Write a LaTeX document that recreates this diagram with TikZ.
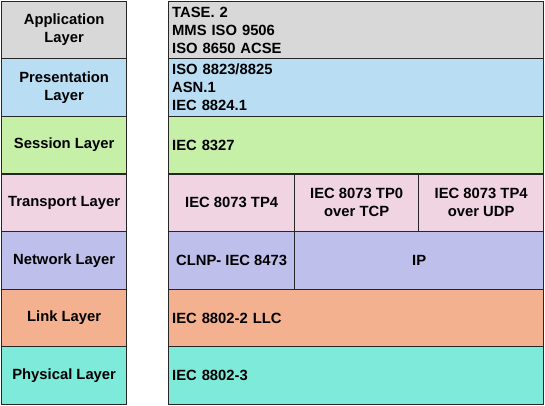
\documentclass[tikz,border=0pt]{standalone}
\usepackage{fontspec}
\setmainfont{Liberation Sans}
\definecolor{cApp}{HTML}{D8D8D8}
\definecolor{cPre}{HTML}{B9DEF4}
\definecolor{cSes}{HTML}{C6EFA8}
\definecolor{cTra}{HTML}{F0D4E2}
\definecolor{cNet}{HTML}{BFBFEB}
\definecolor{cLnk}{HTML}{F4B190}
\definecolor{cPhy}{HTML}{7EEAD9}
\begin{document}
\begin{tikzpicture}[x=1pt,y=-1pt,
  cell/.style={draw=black!85, line width=1.3pt, inner sep=0pt, anchor=north west,
    font=\bfseries\fontsize{14.8}{18}\selectfont, align=center, minimum height=57.6pt},
  lcell/.style={cell, minimum width=125pt},
  rcell/.style={cell, text width=368pt, inner xsep=3.5pt, align=left}]
\useasboundingbox (0,0) rectangle (545,405);
% left column
\node[lcell, fill=cApp] (appL) at (1,0.5) {Application\\Layer};
\node[lcell, fill=cPre] (preL) at (1,58.1) {Presentation\\Layer};
\node[lcell, fill=cSes] (sesL) at (1,115.7) {Session Layer};
\node[lcell, fill=cTra] (traL) at (1,173.3) {Transport Layer};
\node[lcell, fill=cNet] (netL) at (1,230.9) {Network Layer};
\node[lcell, fill=cLnk] (lnkL) at (1,288.5) {Link Layer};
\node[lcell, fill=cPhy] (phyL) at (1,346.1) {Physical Layer};
% right column
\node[rcell, fill=cApp] (appR) at (168,0.5) {TASE. 2\\MMS ISO 9506\\ISO 8650 ACSE};
\node[rcell, fill=cPre] (preR) at (168,58.1) {ISO 8823/8825\\ASN.1\\IEC 8824.1};
\node[rcell, fill=cSes] (sesR) at (168,115.7) {IEC 8327};
\node[cell, fill=cTra, minimum width=126pt] (tp4) at (168,173.3) {IEC 8073 TP4};
\node[cell, fill=cTra, minimum width=124pt] (tp0) at (294,173.3) {IEC 8073 TP0\\over TCP};
\node[cell, fill=cTra, minimum width=125pt] (tp4u) at (418,173.3) {IEC 8073 TP4\\over UDP};
\node[cell, fill=cNet, minimum width=126pt] (clnp) at (168,230.9) {CLNP- IEC 8473};
\node[cell, fill=cNet, minimum width=249pt] (ip) at (294,230.9) {IP};
\node[rcell, fill=cLnk] (lnkR) at (168,288.5) {IEC 8802-2 LLC};
\node[rcell, fill=cPhy] (phyR) at (168,346.1) {IEC 8802-3};
\end{tikzpicture}
\end{document}
